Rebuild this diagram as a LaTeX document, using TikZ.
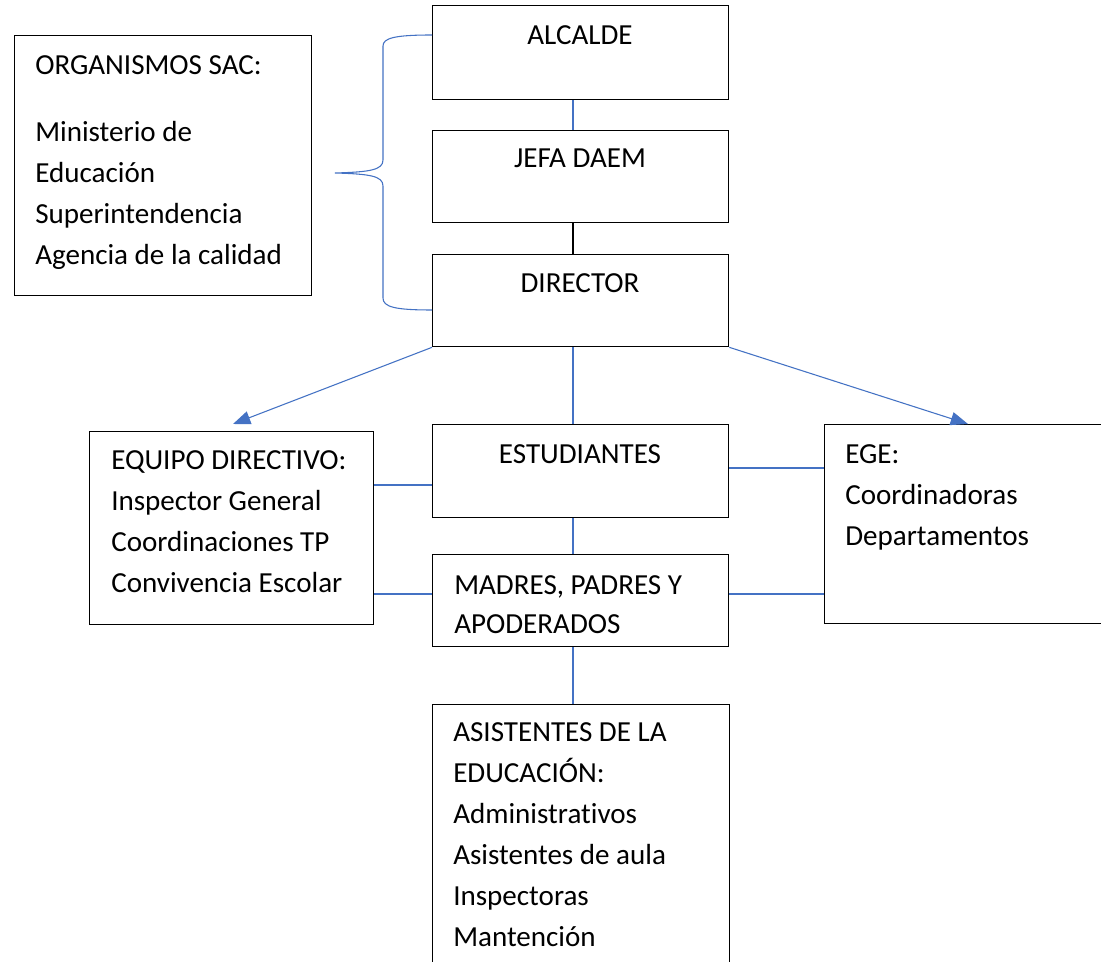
\documentclass[tikz,border=0pt]{standalone}
\usepackage{fontspec}
\setmainfont{Carlito}[Ligatures=NoCommon]
\usetikzlibrary{arrows.meta}
\definecolor{lnblue}{HTML}{4472C4}
\begin{document}
\begin{tikzpicture}[x=0.75pt,y=-0.75pt,
  box/.style={draw=black,line width=1pt,inner sep=0pt,anchor=north west},
  lbl/.style={inner sep=0pt,anchor=base west,font=\fontsize{21.8pt}{30.75pt}\selectfont},
  ctr/.style={inner sep=0pt,anchor=base,font=\fontsize{21.8pt}{30.75pt}\selectfont},
  conn/.style={draw=lnblue,line width=0.8pt},
  blk/.style={draw=black,line width=0.8pt},
  arr/.style={conn,-{Triangle[length=13pt,width=10pt]}}]
\clip (0,0) rectangle (1101,962);
\fill[white] (0,0) rectangle (1101,962);
% boxes
\node[box,minimum width=222.75pt,minimum height=195pt] (org) at (14,35) {};
\node[box,minimum width=222pt,minimum height=70.5pt] (alc) at (432,5) {};
\node[box,minimum width=222pt,minimum height=69pt] (jefa) at (432,130) {};
\node[box,minimum width=222pt,minimum height=69pt] (dir) at (432,254) {};
\node[box,minimum width=213pt,minimum height=144.75pt] (equipo) at (89,431) {};
\node[box,minimum width=222pt,minimum height=69.75pt] (est) at (432,424) {};
\node[box,minimum width=222pt,minimum height=69pt] (madres) at (432,554) {};
\node[box,minimum width=225pt,minimum height=149.25pt] (ege) at (824,424) {};
\node[box,minimum width=222.75pt,minimum height=225pt] (asist) at (432,704) {};
% texts
\node[lbl] (torg) at (35,75) {\parbox[t]{240pt}{ORGANISMOS SAC:\\[19.5pt]Ministerio de\\Educación\\Superintendencia\\Agencia de la calidad}};
\node[ctr] (talc) at (580,45) {ALCALDE};
\node[ctr] (tjefa) at (580,168) {JEFA DAEM};
\node[ctr] (tdir) at (580,292.7) {DIRECTOR};
\node[ctr] (test) at (580,463.3) {ESTUDIANTES};
\node[lbl] (tequipo) at (111,470) {\parbox[t]{220pt}{EQUIPO DIRECTIVO:\\Inspector General\\Coordinaciones TP\\Convivencia Escolar}};
\node[lbl] (tege) at (845,463.3) {\parbox[t]{220pt}{EGE:\\Coordinadoras\\Departamentos}};
\node[lbl,font=\fontsize{21.8pt}{28.75pt}\selectfont] (tmadres) at (454,595) {\parbox[t]{220pt}{MADRES, PADRES Y\\APODERADOS}};
\node[lbl] (tasist) at (453,741.7) {\parbox[t]{220pt}{ASISTENTES DE LA\\EDUCACIÓN:\\Administrativos\\Asistentes de aula\\Inspectoras\\Mantención}};
% vertical connectors
\draw[conn] (alc.south -| 573,0) -- (jefa.north -| 573,0);
\draw[blk] (jefa.south -| 573,0) -- (dir.north -| 573,0);
\draw[conn] (dir.south -| 573,0) -- (est.north -| 573,0);
\draw[conn] (est.south -| 573,0) -- (madres.north -| 573,0);
\draw[conn] (madres.south -| 573,0) -- (asist.north -| 573,0);
% horizontal connectors
\draw[conn] (equipo.east |- 0,485) -- (est.west |- 0,485);
\draw[conn] (equipo.east |- 0,594) -- (madres.west |- 0,594);
\draw[conn] (est.east |- 0,468) -- (ege.west |- 0,468);
\draw[conn] (madres.east |- 0,594) -- (ege.west |- 0,594);
% arrows
\coordinate (tipL) at (233,424);
\coordinate (tipR) at (968,424);
\draw[arr] (dir.south west) -- (tipL);
\draw[arr] (dir.south east) -- (tipR);
% brace
\coordinate (brtip) at (335,173);
\draw[conn] (alc.west |- 0,35) .. controls (395,35) and (383,38) .. (383,46) -- (383,160)
  .. controls (383,170) and (370,172) .. (brtip)
  .. controls (370,174) and (383,176) .. (383,186) -- (383,298)
  .. controls (383,307) and (395,310) .. (dir.west |- 0,310);
\end{tikzpicture}
\end{document}
